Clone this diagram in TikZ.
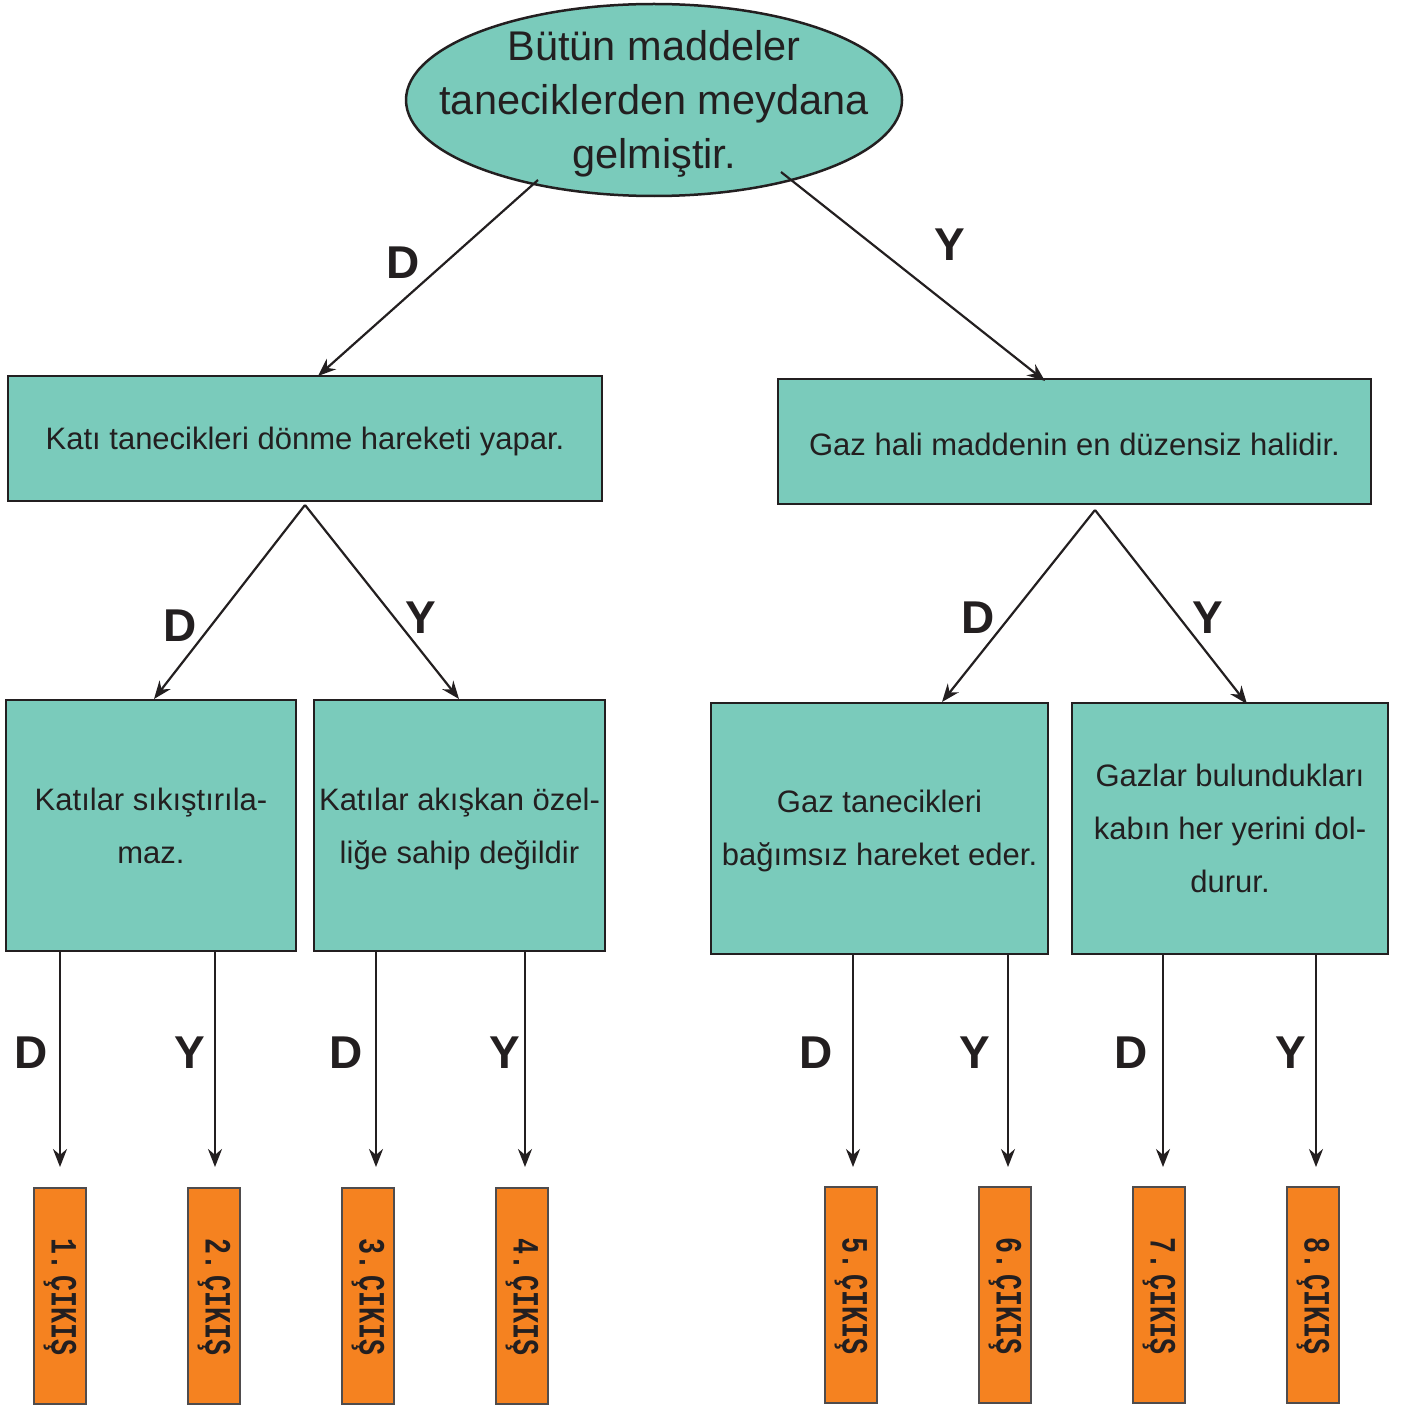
\documentclass[tikz,border=0pt]{standalone}
\usepackage{fontspec}
\setmainfont{Liberation Sans}
\newfontfamily\monob{Liberation Mono}
\usetikzlibrary{shapes.geometric,arrows.meta}
\definecolor{teal1}{HTML}{7ACBBB}
\definecolor{orng}{HTML}{F58220}
\definecolor{ink}{HTML}{231F20}
\tikzset{
  box/.style={draw=ink,line width=2.5pt,fill=teal1,rectangle,inner sep=0pt,align=center,text=ink,font=\fontsize{31}{53}\selectfont},
  outbox/.style={draw=ink!80,line width=1.5pt,fill=orng,rectangle,inner sep=0pt,minimum width=52pt,minimum height=216pt},
  outtxt/.style={rotate=-90,inner sep=0pt,text=ink,font=\monob\bfseries\fontsize{37}{37}\selectfont},
  arr/.style={draw=ink,line width=2.2pt,-{Stealth[length=18pt,width=14pt]}},
  lbl/.style={text=ink,inner sep=0pt,font=\bfseries\fontsize{46}{46}\selectfont}
}
\begin{document}
\begin{tikzpicture}[x=1pt,y=-1pt]
\useasboundingbox (0,0) rectangle (1401,1407);
% root
\node[ellipse,draw=ink,line width=2.5pt,fill=teal1,minimum width=496pt,minimum height=192pt,inner sep=0pt] (root) at (654,100) {};
\node[align=center,text=ink,inner sep=0pt,font=\fontsize{41.5}{54}\selectfont] (roottxt) at (654,104) {Bütün maddeler\\taneciklerden meydana\\gelmiştir.};
% level 1
\node[box,minimum width=594pt,minimum height=125pt] (L1) at (305,438.5) {};
\node[text=ink,inner sep=0pt,font=\fontsize{31}{53}\selectfont] (L1t) at (305,441) {Katı tanecikleri dönme hareketi yapar.};
\node[box,minimum width=593pt,minimum height=125pt] (R1) at (1074.5,441.5) {};
\node[text=ink,inner sep=0pt,font=\fontsize{31}{53}\selectfont] (R1t) at (1074.5,444) {Gaz hali maddenin en düzensiz halidir.};
% level 2
\node[box,minimum width=290pt,minimum height=251pt] (A) at (151,825.5) {Katılar sıkıştırıla-\\maz.};
\node[box,minimum width=291pt,minimum height=251pt] (B) at (459.5,825.5) {};
\node[text=ink,inner sep=0pt,align=center,font=\fontsize{31}{53}\selectfont] (Bt) at (459.5,828.5) {Katılar akışkan özel-\\liğe sahip değildir};
\node[box,minimum width=337pt,minimum height=251pt] (C) at (879.5,828.5) {};
\node[text=ink,inner sep=0pt,align=center,font=\fontsize{31}{53}\selectfont] (Ct) at (879.5,831) {Gaz tanecikleri\\bağımsız hareket eder.};
\node[box,minimum width=316pt,minimum height=251pt] (E) at (1230,828.5) {Gazlar bulundukları\\kabın her yerini dol-\\durur.};
% coordinates
\coordinate (rl) at (538,180);
\coordinate (rr) at (781,172);
\coordinate (tl) at (318,376);
\coordinate (tr) at (1045,381);
\coordinate (L1b) at (305,505);
\coordinate (R1b) at (1095,510);
\coordinate (Atop) at (154,699);
\coordinate (Btop) at (459,699);
\coordinate (Ctop) at (942,702);
\coordinate (Etop) at (1247,704);
\draw[arr] (rl) -- (tl);
\draw[arr] (rr) -- (tr);
\draw[arr] (L1b) -- (Atop);
\draw[arr] (L1b) -- (Btop);
\draw[arr] (R1b) -- (Ctop);
\draw[arr] (R1b) -- (Etop);
% outputs
\foreach \i/\x/\y in {1/60/1296,2/214/1296,3/368/1296,4/522/1296,5/851/1295,6/1005/1295,7/1159/1295,8/1313/1295}{
  \node[outbox] (o\i) at (\x,\y) {};
  \node[outtxt] (t\i) at (\x,\y+1) {\scalebox{0.72}[1]{\i.\hspace{8pt}ÇIKIŞ}};
}
\foreach \n/\x in {1/60,2/215,3/376,4/525,5/853,6/1008,7/1163,8/1316}{
  \coordinate (e\n) at (\x,1167);
}
\draw[arr] (A.south -| e1) -- (e1);
\draw[arr] (A.south -| e2) -- (e2);
\draw[arr] (B.south -| e3) -- (e3);
\draw[arr] (B.south -| e4) -- (e4);
\draw[arr] (C.south -| e5) -- (e5);
\draw[arr] (C.south -| e6) -- (e6);
\draw[arr] (E.south -| e7) -- (e7);
\draw[arr] (E.south -| e8) -- (e8);
% labels
\node[lbl] (d0) at (403,263) {D};
\node[lbl] (y0) at (950,245) {Y};
\node[lbl] (d1) at (180,626) {D};
\node[lbl] (y1) at (421,618) {Y};
\node[lbl] (d2) at (978,618) {D};
\node[lbl] (y2) at (1208,618) {Y};
\foreach \n/\t/\x in {a/D/31,b/Y/190,c/D/346,d/Y/505,e/D/816,f/Y/975,g/D/1131,h/Y/1291}{
  \node[lbl] (b\n) at (\x,1053) {\t};
}
\end{tikzpicture}
\end{document}
